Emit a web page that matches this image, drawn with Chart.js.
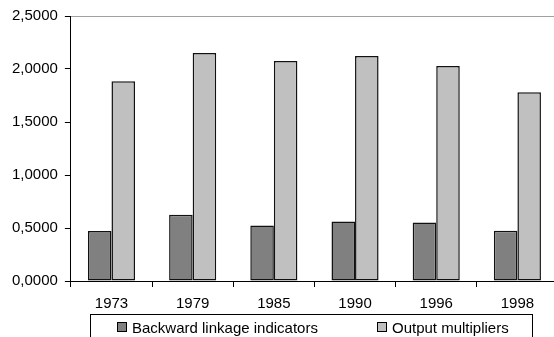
<!DOCTYPE html>
<html>
<head>
<meta charset="utf-8">
<script src="https://cdn.jsdelivr.net/npm/chart.js@4/dist/chart.umd.min.js"></script>
<style>
  html, body { margin: 0; padding: 0; background: #fff; overflow: hidden; }
  #wrap { width: 554px; height: 337px; overflow: hidden; }
  canvas { display: block; }
</style>
</head>
<body>
<div id="wrap"><canvas id="c" width="558" height="337"></canvas></div>
<script>
// Years on the category axis
const years = ['1973', '1979', '1985', '1990', '1996', '1998'];
// Series values
const backwardLinkage = [0.472, 0.625, 0.523, 0.561, 0.551, 0.475];
const outputMultipliers = [1.885, 2.151, 2.075, 2.123, 2.028, 1.780];
// Series names
const seriesNames = ['Backward linkage indicators', 'Output multipliers'];

const FONT = 'Liberation Sans, Arial, sans-serif';

// Framed legend row below the axis labels
const framedLegend = {
  id: 'framedLegend',
  afterDraw(chart) {
    const ctx = chart.ctx;
    ctx.save();
    ctx.strokeStyle = '#000';
    ctx.lineWidth = 1;
    ctx.strokeRect(90.5, 314.5, 442, 40);
    const xs = [117, 377];
    ctx.font = '15px ' + FONT;
    ctx.textBaseline = 'alphabetic';
    ctx.textAlign = 'left';
    chart.data.datasets.forEach((ds, i) => {
      ctx.fillStyle = ds.backgroundColor;
      ctx.fillRect(xs[i] + 0.5, 322.5, 9, 9);
      ctx.strokeStyle = '#000';
      ctx.strokeRect(xs[i] + 0.5, 322.5, 9, 9);
      ctx.fillStyle = '#000';
      ctx.fillText(ds.label, xs[i] + 15, 333);
    });
    ctx.restore();
  }
};

new Chart(document.getElementById('c'), {
  type: 'bar',
  data: {
    labels: years,
    datasets: [
      { label: seriesNames[0], data: backwardLinkage, backgroundColor: '#808080', borderColor: '#111', borderWidth: 1.5, borderSkipped: false },
      { label: seriesNames[1], data: outputMultipliers, backgroundColor: '#c0c0c0', borderColor: '#111', borderWidth: 1.5, borderSkipped: false }
    ]
  },
  options: {
    responsive: false,
    animation: false,
    devicePixelRatio: 1,
    layout: { padding: { left: 5, top: 16, right: 0, bottom: 16 } },
    datasets: { bar: { categoryPercentage: 0.58, barPercentage: 1.0 } },
    plugins: { legend: { display: false }, tooltip: { enabled: false } },
    scales: {
      x: {
        offset: true,
        grid: { offset: true, drawOnChartArea: false, drawTicks: true, tickLength: 6, color: '#000' },
        border: { color: '#000', width: 1 },
        ticks: { color: '#000', font: { family: FONT, size: 15 }, padding: 8, maxRotation: 0 }
      },
      y: {
        min: 0, max: 2.5,
        grid: {
          color: (c) => (c.tick && c.tick.value === 2.5 ? '#a0a0a0' : 'rgba(0,0,0,0)'),
          tickColor: '#000', tickLength: 6, drawTicks: true
        },
        border: { color: '#000', width: 1 },
        ticks: {
          stepSize: 0.5, color: '#000', padding: 7,
          font: { family: FONT, size: 15 },
          callback: (v) => Number(v).toFixed(4).replace('.', ',')
        }
      }
    }
  },
  plugins: [framedLegend]
});
</script>
</body>
</html>
